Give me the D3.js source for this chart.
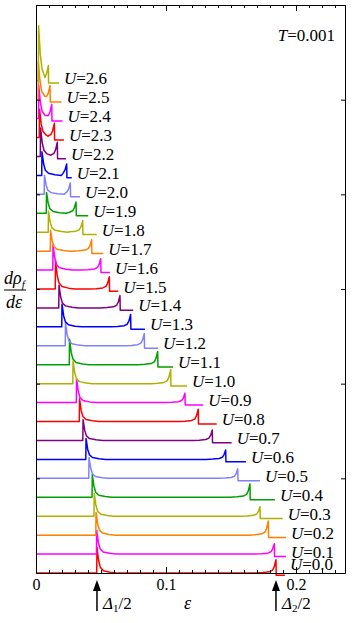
<!DOCTYPE html>
<html>
<head>
<meta charset="utf-8">
<script src="https://cdn.jsdelivr.net/npm/d3@7"></script>
<style>
  body { margin: 0; background: #fff; }
  svg { display: block; font-family: "Liberation Serif", "DejaVu Serif", serif; }
  .axis path, .axis line { stroke: #000; stroke-width: 1; }
</style>
</head>
<body>
<svg id="chart" width="354" height="623"></svg>
<script>
// one curve per U value, each shifted up by 0.2 units
const uValues = [0.0, 0.1, 0.2, 0.3, 0.4, 0.5, 0.6, 0.7, 0.8, 0.9, 1.0, 1.1, 1.2, 1.3,
  1.4, 1.5, 1.6, 1.7, 1.8, 1.9, 2.0, 2.1, 2.2, 2.3, 2.4, 2.5, 2.6];
// epsilon of the first peak (Delta1/2)
const gap1 = [0.0469, 0.0467, 0.0462, 0.0448, 0.0433, 0.0408, 0.0385, 0.0362, 0.0335,
  0.0312, 0.0285, 0.0258, 0.0227, 0.0200, 0.0177, 0.0150, 0.0131, 0.0112, 0.0096,
  0.0081, 0.0065, 0.0046, 0.0035, 0.0027, 0.0021, 0.0018, 0.0020];
// epsilon of the second peak (Delta2/2)
const gap2 = [0.1846, 0.1833, 0.1787, 0.1723, 0.1646, 0.1552, 0.1459, 0.1356, 0.1248,
  0.1146, 0.1036, 0.0936, 0.0833, 0.0728, 0.0646, 0.0564, 0.0498, 0.0428, 0.0359,
  0.0308, 0.0264, 0.0236, 0.0164, 0.0141, 0.0121, 0.0108, 0.0095];
// last epsilon of each curve
const tailEnd = [0.1915, 0.1923, 0.1923, 0.1898, 0.1838, 0.1723, 0.1615, 0.1505, 0.1390,
  0.1287, 0.1162, 0.1054, 0.0938, 0.0838, 0.0748, 0.0633, 0.0569, 0.0518, 0.0467,
  0.0402, 0.0338, 0.0275, 0.0231, 0.0215, 0.0204, 0.0196, 0.0177];
// peak heights above each curve's own baseline
const peak1 = [0.27, 0.25, 0.24, 0.24, 0.24, 0.22, 0.22, 0.22, 0.24, 0.25, 0.24, 0.27,
  0.24, 0.24, 0.24, 0.30, 0.27, 0.22, 0.22, 0.22, 0.20, 0.25, 0.30, 0.30, 0.35, 0.40, 0.58];
const peak2 = [0.14, 0.11, 0.15, 0.10, 0.14, 0.10, 0.10, 0.11, 0.13, 0.10, 0.15, 0.14,
  0.13, 0.13, 0.13, 0.13, 0.12, 0.12, 0.12, 0.12, 0.12, 0.12, 0.15, 0.15, 0.15, 0.15, 0.16];
const tailLevel = -0.025; // level after the second peak
// shape of a peak: distance from the peak and fraction of its height
const peakDx = [0, 0.0013, 0.0026, 0.005, 0.010, 0.015];
const peakFrac = [1, 0.48, 0.22, 0.09, 0.03, 0];
const curveStep = 0.2;

const xTicksMajor = [0, 0.1, 0.2];
const yTicks = [1, 2, 3, 4, 5];

const colors = ['#ff0000', '#ff00ff', '#ff8000', '#b0b000', '#00a000', '#8080ff', '#0000ff', '#800080',
  '#ff0000', '#ff00ff', '#b0b000', '#00a000', '#8080ff', '#0000ff', '#800080',
  '#ff0000', '#ff00ff', '#ff8000', '#b0b000', '#00a000', '#8080ff', '#0000ff', '#800080',
  '#ff0000', '#ff00ff', '#ff8000', '#b0b000'];

const svg = d3.select('#chart');
const margin = { left: 36, right: 9, top: 5, bottom: 50 };
const w = 354, h = 623;

const x = d3.scaleLinear().domain([0, 0.2377]).range([margin.left, w - margin.right]);
const y = d3.scaleLinear().domain([0, 6]).range([h - margin.bottom, margin.top]);

// build the points of one curve from its read values
function curvePoints(i) {
  const d1 = gap1[i], d2 = gap2[i];
  const pts = [[0, 0], [d1 - 0.0002, 0], [d1, peak1[i]]];
  let lastX = d1;
  for (let k = 1; k < peakDx.length; k++) {
    const px = d1 + peakDx[k];
    if (px < d2 - 0.003) { pts.push([px, peak1[i] * peakFrac[k]]); lastX = px; }
  }
  for (let k = peakDx.length - 1; k >= 1; k--) {
    const px = d2 - peakDx[k];
    if (px > lastX + 0.0005) pts.push([px, peak2[i] * peakFrac[k]]);
  }
  pts.push([d2, peak2[i]], [d2 + 0.0002, tailLevel], [tailEnd[i], tailLevel]);
  return pts;
}

const line = d3.line()
  .x((d) => x(d[0]))
  .y((d) => y(d[1]));

const curves = svg.append('g');
uValues.forEach((u, i) => {
  const off = i * curveStep;
  curves.append('path')
    .datum(curvePoints(i).map((p) => [p[0], p[1] + off]))
    .attr('fill', 'none')
    .attr('stroke', colors[i])
    .attr('stroke-width', 1.5)
    .attr('stroke-linejoin', 'round')
    .attr('d', line);

  // label sits just right of the tail, kept clear of the bottom axis
  const t = curves.append('text')
    .attr('x', x(tailEnd[i]) + 5)
    .attr('y', Math.min(y(off) + 3.5, y(0) - 3))
    .attr('font-size', 17);
  t.append('tspan').attr('font-style', 'italic').text('U');
  t.append('tspan').text('=' + u.toFixed(1));
});

// axes: minor ticks every 0.01, major at 0.1
const minorTicks = d3.range(0, 0.2377, 0.01);
function styleAxis(g) {
  g.attr('font-family', '"Liberation Serif", serif').attr('font-size', 16);
  g.selectAll('text').attr('fill', '#000');
}
svg.append('g').attr('class', 'axis')
  .attr('transform', `translate(0,${y(0)})`)
  .call(d3.axisBottom(x).tickValues(minorTicks).tickSize(-3).tickSizeOuter(0).tickFormat(''));
svg.append('g').attr('class', 'axis')
  .attr('transform', `translate(0,${y(0)})`)
  .call(d3.axisBottom(x).tickValues(xTicksMajor).tickSize(-6).tickSizeOuter(0)
    .tickPadding(8).tickFormat((d) => (d === 0 ? '0' : d3.format('.1f')(d))))
  .call(styleAxis);
svg.append('g').attr('class', 'axis')
  .attr('transform', `translate(0,${y(6)})`)
  .call(d3.axisTop(x).tickValues(minorTicks).tickSize(-3).tickSizeOuter(0).tickFormat(''));
svg.append('g').attr('class', 'axis')
  .attr('transform', `translate(0,${y(6)})`)
  .call(d3.axisTop(x).tickValues(xTicksMajor).tickSize(-6).tickSizeOuter(0).tickFormat(''));
svg.append('g').attr('class', 'axis')
  .attr('transform', `translate(${x(0)},0)`)
  .call(d3.axisLeft(y).tickValues(yTicks).tickSize(-4).tickSizeOuter(0).tickFormat(''));
svg.append('g').attr('class', 'axis')
  .attr('transform', `translate(${x.range()[1]},0)`)
  .call(d3.axisRight(y).tickValues(yTicks).tickSize(-4).tickSizeOuter(0).tickFormat(''));
svg.selectAll('.axis .tick text').attr('dy', '0.55em');

// x title
svg.append('text')
  .attr('x', 184).attr('y', 609)
  .attr('font-size', 18).attr('font-style', 'italic')
  .text('ε');

// y title as a fraction
const yt = svg.append('g').attr('font-size', 18).attr('font-style', 'italic');
const num = yt.append('text').attr('x', 4).attr('y', 284);
num.append('tspan').text('dρ');
num.append('tspan').attr('font-size', 11).attr('dy', 4).text('f');
yt.append('line').attr('x1', 4).attr('x2', 26).attr('y1', 290).attr('y2', 290)
  .attr('stroke', '#000').attr('stroke-width', 1);
yt.append('text').attr('x', 6).attr('y', 308).text('dε');

// T label
const tl = svg.append('text').attr('x', 335).attr('y', 41)
  .attr('text-anchor', 'end').attr('font-size', 17);
tl.append('tspan').attr('font-style', 'italic').text('T');
tl.append('tspan').text('=0.001');

// arrows marking Delta1/2 and Delta2/2 of the U=0 curve
const arrows = [{ e: gap1[0], sub: '1' }, { e: gap2[0], sub: '2' }];
arrows.forEach((a) => {
  const ax = x(a.e);
  svg.append('line').attr('x1', ax).attr('x2', ax).attr('y1', 589).attr('y2', 611)
    .attr('stroke', '#000').attr('stroke-width', 1.5);
  svg.append('path')
    .attr('d', `M${ax},580 L${ax - 4},591 L${ax + 4},591 Z`)
    .attr('fill', '#000');
  const lt = svg.append('text').attr('x', ax + 6).attr('y', 609).attr('font-size', 17);
  lt.append('tspan').attr('font-style', 'italic').text('Δ');
  lt.append('tspan').attr('font-size', 11).attr('dy', 3).text(a.sub);
  lt.append('tspan').attr('dy', -3).text('/2');
});
</script>
</body>
</html>
